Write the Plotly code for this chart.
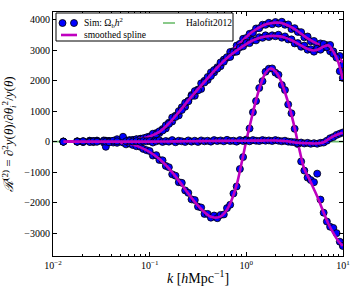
import plotly.graph_objects as go

# ---------------- data ----------------
k_sim = [0.0128, 0.0178, 0.0205, 0.0240, 0.0262, 0.0285, 0.0335, 0.0352, 0.0380, 0.0420,
         0.0460, 0.0530, 0.0570, 0.0620, 0.0670, 0.0730, 0.0800, 0.0860, 0.0930,
         0.100, 0.108, 0.117, 0.126, 0.136, 0.147, 0.158, 0.171, 0.185, 0.200,
         0.215, 0.233, 0.251, 0.271, 0.293, 0.316, 0.341, 0.369, 0.398, 0.430,
         0.464, 0.501, 0.541, 0.585, 0.631, 0.681, 0.736, 0.794, 0.858, 0.926,
         1.00, 1.08, 1.17, 1.26, 1.36, 1.47, 1.58, 1.71, 1.85, 2.00,
         2.15, 2.33, 2.51, 2.71, 2.93, 3.16, 3.41, 3.69, 3.98, 4.30,
         4.64, 5.01, 5.41, 5.85, 6.31, 6.81, 7.36, 7.94, 8.58, 9.26, 9.95]

sim_a = [5, 10, -10, 25, 20, 35, 10, 30, 15, 25, 0, 50, 40, 30, 55, 70, 95, 90, 130,
         170, 165, 280, 280, 410, 430, 620, 660, 850, 860,
         1127, 1143, 1340, 1527, 1503, 1710, 1727, 1993, 2020, 2270,
         2270, 2440, 2473, 2690, 2750, 2940, 2967, 3150, 3207, 3373,
         3400, 3533, 3567, 3710, 3720, 3833, 3830, 3897, 3847, 3920,
         3867, 3930, 3830, 3843, 3690, 3720, 3597, 3590, 3420, 3447,
         3290, 3300, 3143, 3220, 3090, 3163, 2960, 2960, 2780, 2810, 2520]

sim_b = [0, -5, 15, 30, 10, 20, 40, 5, 25, 10, 80, 35, 25, 50, 45, 80, 80, 110, 140,
         150, 260, 240, 340, 363, 537, 580, 793, 807, 1000,
         1037, 1273, 1320, 1493, 1657, 1680, 1910, 1940, 2120, 2150,
         2347, 2390, 2597, 2620, 2770, 2777, 2930, 2950, 3093, 3123,
         3240, 3230, 3333, 3320, 3423, 3403, 3485, 3428, 3485, 3455,
         3505, 3407, 3450, 3350, 3353, 3220, 3230, 3110, 3150, 3013,
         3030, 2950, 3047, 3013, 3200, 3100, 3170, 2880, 2750, 2310, 2090]

sim_c = [0, 5, -10, 0, -15, 10, -30, -170, -5, -30, -40, -30, -90, -60, -110, -150, -170, -240, -280,
         -310, -457, -443, -600, -613, -797, -840, -1073, -1117, -1330,
         -1350, -1600, -1680, -1893, -1917, -2130, -2160, -2370, -2370, -2493,
         -2423, -2510, -2403, -2387, -2180, -2070, -1700, -1470, -898, -507,
         70, 430, 963, 1330, 1757, 1983, 2290, 2390, 2400, 2260,
         2193, 1857, 1690, 1220, 930, 420, -80, -650, -950, -1180,
         -1260, -1330, -1050, -1900, -2330, -2620, -2790, -2830, -3000, -3280, -3420]

sim_d = [-5, 0, 10, -10, 5, -5, 15, 0, -20, 30, 10, 160, 10, 20, 5, 15, 0, 20, 10,
         20, -30, 10, 40, -10, 20, 0, 50, -20, 30,
         10, -10, 40, 0, 30, -10, 40, 10, 30, 0,
         50, 20, 40, 10, 60, 20, 30, 0, 50, 20,
         40, 10, 50, 30, 20, 50, 30, 40, 20, 50,
         30, 10, 30, 0, -10, -20, -50, -30, -60, -40,
         -70, -50, -70, -40, -30, 30, 110, 150, 220, 260, 300]

k_spline = [0.0128, 0.0158, 0.0251, 0.0398, 0.0501, 0.0631, 0.0794, 0.1, 0.126, 0.158,
            0.2, 0.251, 0.316, 0.398, 0.447, 0.501, 0.562, 0.631, 0.708, 0.794,
            0.891, 1.0, 1.12, 1.26, 1.41, 1.58, 1.78, 2.0, 2.24, 2.51,
            2.82, 3.16, 3.55, 3.98, 4.47, 5.01, 5.62, 6.31, 7.08, 7.94,
            8.91, 9.95]

spl_a = [0, 0, 0, 5, 15, 40, 80, 150, 290, 560,
         920, 1300, 1680, 2060, 2240, 2420, 2590, 2770, 2950, 3120,
         3280, 3430, 3570, 3680, 3770, 3840, 3880, 3900, 3895, 3850,
         3780, 3690, 3580, 3460, 3350, 3260, 3190, 3130, 3060, 2930,
         2780, 2600]

spl_b = [0, 0, 0, 5, 18, 45, 90, 170, 320, 600,
         970, 1350, 1720, 2080, 2260, 2430, 2590, 2740, 2870, 2990,
         3100, 3200, 3290, 3360, 3410, 3445, 3465, 3465, 3450, 3410,
         3350, 3270, 3180, 3090, 3020, 2990, 3030, 3120, 3150, 2950,
         2620, 2050]

spl_c = [0, 0, -5, -15, -35, -80, -180, -340, -570, -880,
         -1280, -1700, -2100, -2400, -2480, -2490, -2420, -2230, -1900, -1420,
         -720, 40, 700, 1360, 1880, 2250, 2400, 2300, 2050, 1620,
         1080, 450, -280, -900, -1220, -1560, -1920, -2330, -2700, -3000,
         -3250, -3420]

spl_d = [0, 0, 0, 0, 0, 0, 0, 0, 3, 6,
         9, 12, 15, 20, 22, 24, 25, 26, 27, 28,
         29, 30, 32, 33, 34, 35, 35, 35, 28, 20,
         0, -30, -40, -50, -55, -60, -55, -20, 80, 170,
         240, 290]

k_halofit = [0.01, 10.0]
halofit = [0, 0]

x_tickvals = [0.01, 0.1, 1, 10]
x_ticktext = ["10<sup>\u22122</sup>", "10<sup>\u22121</sup>", "10<sup>0</sup>", "10<sup>1</sup>"]
y_tickvals = [-3000, -2000, -1000, 0, 1000, 2000, 3000, 4000]
y_ticktext = ["\u22123000", "\u22122000", "\u22121000", "0", "1000", "2000", "3000", "4000"]

legend_labels = ["Sim: \u03a9<sub>b</sub><i>h</i><sup>2</sup>", "smoothed spline", "Halofit2012"]

# ---------------- figure ----------------
SERIF = "Liberation Serif"
BLUE = "#0000ff"
MAGENTA = "#bf00bf"
GREEN = "#6cbd6c"

W, H = 354, 295
ML, MR, MT, MB = 53, 11, 12, 39
PW, PH = W - ML - MR, H - MT - MB


def px(x):  # pixel -> paper x
    return (x - ML) / PW


def py(y):  # pixel -> paper y
    return (H - MB - y) / PH


fig = go.Figure()

fig.add_trace(go.Scatter(
    x=k_halofit, y=halofit, mode="lines", name=legend_labels[2],
    line=dict(color=GREEN, width=1.6), showlegend=False))

sims = [sim_a, sim_b, sim_c, sim_d]
spls = [spl_a, spl_b, spl_c, spl_d]
for i, (s, p) in enumerate(zip(sims, spls)):
    fig.add_trace(go.Scatter(
        x=k_sim, y=s, mode="markers", name=legend_labels[0],
        marker=dict(color=BLUE, size=7, line=dict(color="black", width=0.8)),
        showlegend=False))
    fig.add_trace(go.Scatter(
        x=k_spline, y=p, mode="lines", name=legend_labels[1],
        line=dict(color=MAGENTA, width=2.6, shape="spline", smoothing=1.0),
        showlegend=False))

axis_common = dict(
    showline=True, linecolor="black", linewidth=1, mirror="allticks",
    ticks="inside", tickcolor="black", ticklen=4, tickwidth=0.8,
    showgrid=False, zeroline=False, automargin=False,
    tickfont=dict(family=SERIF, size=10, color="black"),
)

minor_vals = []
for dec in [0.01, 0.1, 1]:
    for m in range(2, 10):
        minor_vals.append(dec * m)

fig.update_xaxes(
    type="log", range=[-2, 1],
    tickmode="array", tickvals=x_tickvals, ticktext=x_ticktext,
    minor=dict(tickmode="array", tickvals=minor_vals, ticks="inside", ticklen=2,
               tickcolor="black", tickwidth=0.6),
    title=dict(text="<i>k</i> [<i>h</i>Mpc<sup>\u22121</sup>]",
               font=dict(family=SERIF, size=14, color="black"), standoff=3),
    **axis_common)

fig.update_yaxes(
    range=[-3750, 4250],
    tickmode="array", tickvals=y_tickvals, ticktext=y_ticktext,
    title=dict(text="<i>\u211b</i><sup>(2)</sup> = \u2202<sup>2</sup><i>y</i>(<i>\u03b8</i>)/\u2202<i>\u03b8</i><sub><i>i</i></sub><sup>2</sup>/<i>y</i>(<i>\u03b8</i>)",
               font=dict(family=SERIF, size=13, color="black")),
    **axis_common)

# ---- legend box drawn as shapes + text annotations ----
row1, row2 = 23, 35
shapes = [
    dict(type="rect", xref="paper", yref="paper", x0=px(56), x1=px(233), y0=py(41), y1=py(13),
         fillcolor="white", line=dict(color="black", width=1), layer="above"),
]
for cx in (62.5, 74):
    shapes.append(dict(type="circle", xref="paper", yref="paper",
                       xsizemode="pixel", ysizemode="pixel",
                       xanchor=px(cx), yanchor=py(row1), x0=-3.5, x1=3.5, y0=-3.5, y1=3.5,
                       fillcolor=BLUE, line=dict(color="black", width=0.8), layer="above"))
shapes.append(dict(type="line", xref="paper", yref="paper", x0=px(61), x1=px(77),
                   y0=py(row2), y1=py(row2), line=dict(color=MAGENTA, width=2.6), layer="above"))
shapes.append(dict(type="line", xref="paper", yref="paper", x0=px(163), x1=px(175),
                   y0=py(row1), y1=py(row1), line=dict(color=GREEN, width=1.6), layer="above"))

annotations = [
    dict(text=legend_labels[0], x=px(82), y=py(row1 - 1), xref="paper", yref="paper",
         xanchor="left", yanchor="middle", showarrow=False,
         font=dict(family=SERIF, size=9.5, color="black")),
    dict(text=legend_labels[1], x=px(82), y=py(row2), xref="paper", yref="paper",
         xanchor="left", yanchor="middle", showarrow=False,
         font=dict(family=SERIF, size=9.5, color="black")),
    dict(text=legend_labels[2], x=px(184), y=py(row1), xref="paper", yref="paper",
         xanchor="left", yanchor="middle", showarrow=False,
         font=dict(family=SERIF, size=9.5, color="black")),
]

fig.update_layout(
    width=W, height=H,
    margin=dict(l=ML, r=MR, t=MT, b=MB, autoexpand=False),
    paper_bgcolor="white", plot_bgcolor="white",
    font=dict(family=SERIF, size=10, color="black"),
    shapes=shapes, annotations=annotations,
    showlegend=False,
)

fig.write_html("out.html", config={"displayModeBar": False},
               post_script="document.body.style.margin='0';document.body.style.padding='0';")
